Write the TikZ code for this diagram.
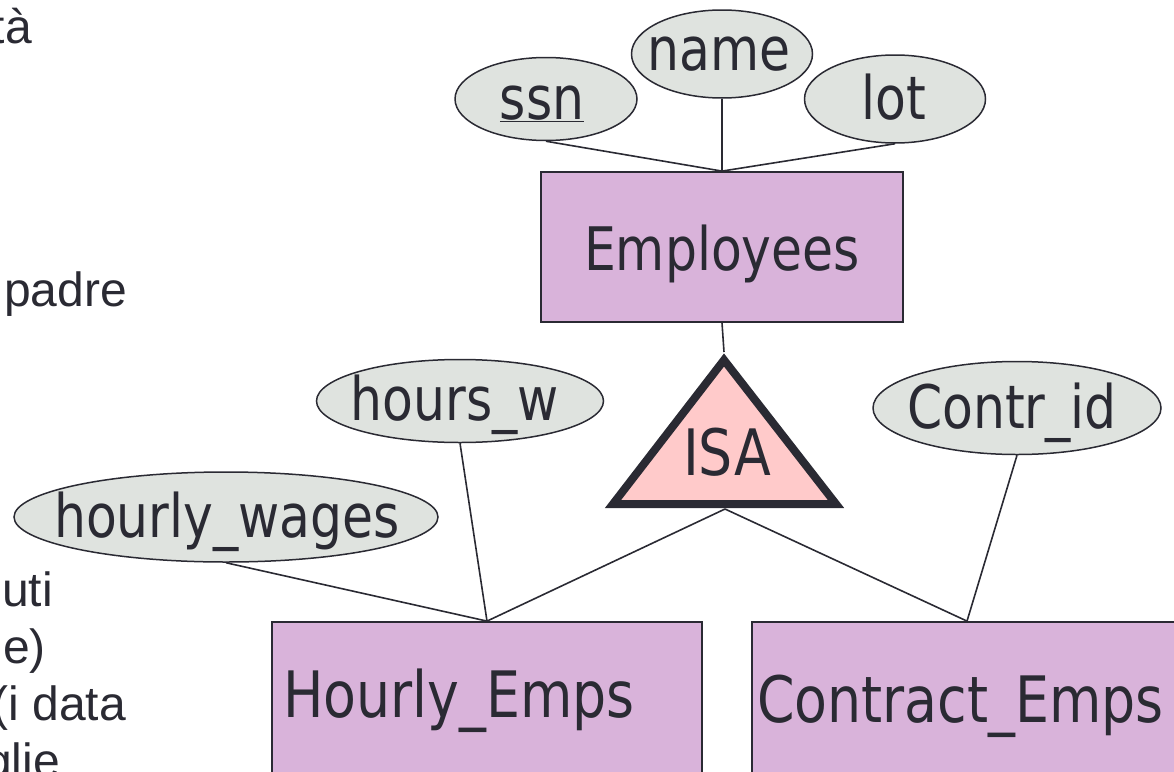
\documentclass[tikz,border=0pt]{standalone}
\usepackage{fontspec}
\setmainfont{Liberation Sans}
\newfontfamily\erfont[FakeStretch=0.84]{DejaVu Sans}
\usetikzlibrary{shapes.geometric}

\definecolor{ink}{HTML}{2A2A33}
\definecolor{entfill}{HTML}{D9B3DA}
\definecolor{attrfill}{HTML}{DFE3DF}
\definecolor{isafill}{HTML}{FFCACA}

\begin{document}
\begin{tikzpicture}[x=1pt,y=-1pt,
  entity/.style={draw=ink, line width=1.8pt, fill=entfill, rectangle, inner sep=0pt},
  attr/.style={draw=ink, line width=1.5pt, fill=attrfill, ellipse, inner sep=0pt},
  ertext/.style={text=ink, font=\erfont\fontsize{60}{72}\selectfont, inner sep=0pt, anchor=base},
  bigtext/.style={ertext, font=\erfont\fontsize{64}{76}\selectfont},
  link/.style={draw=ink, line width=1.6pt},
  slide/.style={text=ink, font=\fontsize{48}{57}\selectfont, inner sep=0pt, anchor=base east}
]
\useasboundingbox (0,0) rectangle (1174,771);

% slide text running in from the left
\node[slide] (s1) at (32,43) {tà};
\node[slide] (s2) at (3,241) {.};
\node[slide] (s3) at (127,306) {padre};
\node[slide] (s4) at (53,606) {uti};
\node[slide] (s5) at (46,663) {e)};
\node[slide] (s6) at (126,720) {(i data};
\node[slide] (s7) at (60,777) {glie};

% entity sets
\node[entity, minimum width=362pt, minimum height=150pt] (emp) at (722,247) {};
\node[ertext] (emptxt) at (722,270) {Employees};
\node[entity, minimum width=430pt, minimum height=200pt] (hourly) at (487,722) {};
\node[bigtext, anchor=base west] (hourlytxt) at (283,717) {Hourly\_Emps};
\node[entity, minimum width=430pt, minimum height=200pt] (contract) at (967,722) {};
\node[bigtext, anchor=base west] (contracttxt) at (757,722) {Contract\_Emps};

% attributes
\node[attr, minimum width=182pt, minimum height=83pt] (ssn) at (546,99) {};
\node[ertext] (ssntxt) at (542,119) {\underline{ssn}};
\node[attr, minimum width=181pt, minimum height=88pt] (name) at (722,54) {};
\node[ertext] (nametxt) at (719,70) {name};
\node[attr, minimum width=181pt, minimum height=88pt] (lot) at (895,99) {};
\node[ertext] (lottxt) at (894,119) {lot};
\node[attr, minimum width=287pt, minimum height=83pt] (hw) at (460,401) {};
\node[ertext] (hwtxt) at (455,420) {hours\_w};
\node[attr, minimum width=424pt, minimum height=90pt] (hwg) at (226,517) {};
\node[ertext] (hwgtxt) at (227,537) {hourly\_wages};
\node[attr, minimum width=288pt, minimum height=93pt] (cid) at (1017,408) {};
\node[ertext] (cidtxt) at (1012,428) {Contr\_id};

% ISA triangle
\coordinate (isaTop) at (724,360);
\coordinate (isaL) at (613,504);
\coordinate (isaR) at (836,504);
\coordinate (isaB) at (725,509);
\draw[line width=8pt, draw=ink, fill=isafill, line join=miter] (isaTop) -- (isaL) -- (isaR) -- cycle;
\node[bigtext] (isatxt) at (727,475) {ISA};
\coordinate (isaApex) at (724,352);

% connectors
\draw[link] (ssn.south) -- (emp.north);
\draw[link] (name.south) -- (emp.north);
\draw[link] (lot.south) -- (emp.north);
\draw[link] (emp.south) -- (isaApex);
\draw[link] (isaB) -- (hourly.north);
\draw[link] (isaB) -- (contract.north);
\draw[link] (hw.south) -- (hourly.north);
\draw[link] (hwg.south) -- (hourly.north);
\draw[link] (cid.south) -- (contract.north);
\end{tikzpicture}
\end{document}
